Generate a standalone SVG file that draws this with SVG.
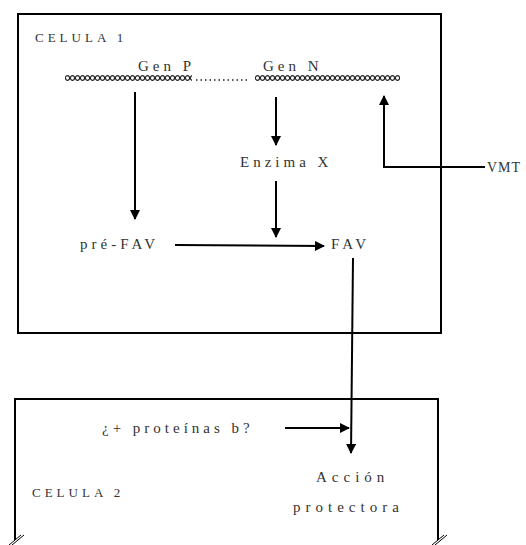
<svg xmlns="http://www.w3.org/2000/svg" width="526" height="545" viewBox="0 0 526 545">
<style>
text{font-family:"Liberation Serif","DejaVu Serif",serif;font-size:15px;fill:#333;letter-spacing:4px}
.sm{font-size:13px}
.box{fill:none;stroke:#000;stroke-width:2}
.ln{fill:none;stroke:#000;stroke-width:2}
.ch{fill:none;stroke:#222;stroke-width:1.2}
</style>
<defs>
<marker id="ah" viewBox="0 0 10 10" refX="9" refY="5" markerWidth="5" markerHeight="5" orient="auto-start-reverse">
<path d="M0,0 L10,5 L0,10 z" fill="#000"/>
</marker>
<pattern id="chain" x="0" y="74" width="5" height="8" patternUnits="userSpaceOnUse">
<ellipse cx="2.5" cy="4" rx="2.1" ry="2.3" class="ch"/>
</pattern>
</defs>
<g id="celula1">
<rect class="box" x="18" y="14" width="423" height="319"/>
<text class="sm" x="35" y="42">CELULA 1</text>
</g>
<g id="celula2">
<path class="box" d="M15,540 V399 H438 V540"/>
<path d="M9,545 L21,535 M12,545 L24,535 M432,545 L444,535 M435,545 L447,535" stroke="#000" stroke-width="1"/>
<text class="sm" x="32" y="497">CELULA 2</text>
</g>
<g id="genes">
<rect x="65" y="74" width="127" height="8" fill="url(#chain)"/>
<line x1="196" y1="80" x2="250" y2="80" stroke="#222" stroke-width="1.5" stroke-dasharray="1.5 3"/>
<rect x="255" y="74" width="145" height="8" fill="url(#chain)"/>
<text x="138" y="71">Gen P</text>
<text x="263" y="71">Gen N</text>
</g>
<g id="enzima"><text x="240" y="167">Enzima X</text></g>
<g id="vmt"><text x="487" y="172" style="font-size:14px;letter-spacing:1px">VMT</text></g>
<g id="prefav"><text x="80" y="249">pré-FAV</text></g>
<g id="fav"><text x="331" y="249">FAV</text></g>
<g id="proteinas"><text x="102" y="433">¿+ proteínas b?</text></g>
<g id="accion">
<text x="316" y="482" style="letter-spacing:5px">Acción</text>
<text x="293" y="512" style="letter-spacing:5px">protectora</text>
</g>
<g id="connectors">
<line class="ln" x1="135" y1="92" x2="135" y2="219" marker-end="url(#ah)"/>
<line class="ln" x1="276" y1="97" x2="276" y2="145" marker-end="url(#ah)"/>
<line class="ln" x1="276" y1="181" x2="276" y2="237" marker-end="url(#ah)"/>
<line class="ln" x1="175" y1="245" x2="324" y2="246" marker-end="url(#ah)"/>
<path class="ln" d="M485,167 H384 V96" marker-end="url(#ah)"/>
<line class="ln" x1="353" y1="258" x2="351" y2="453" marker-end="url(#ah)"/>
<line class="ln" x1="285" y1="428" x2="349" y2="428" marker-end="url(#ah)"/>
</g>
</svg>
